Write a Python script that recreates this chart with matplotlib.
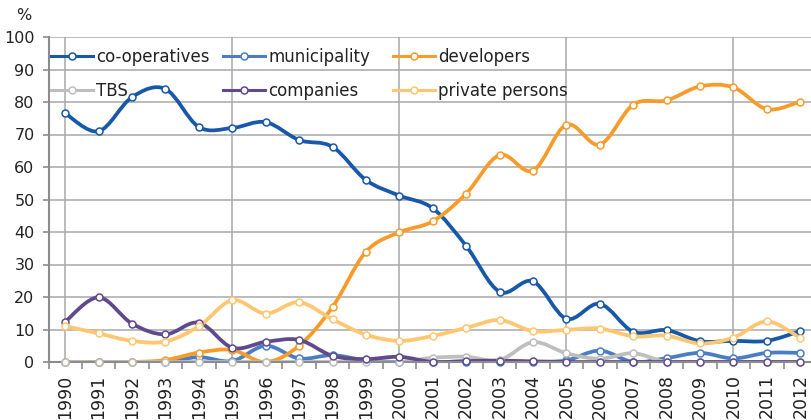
# housing production by developer type, 1990-2012 (share of dwellings, %)
# excel-style smoothed lines: cubic bezier through the data points

import matplotlib.pyplot as plt
from matplotlib.path import Path
from matplotlib.patches import PathPatch
from matplotlib.lines import Line2D

plt.rcParams['font.family'] = ['DejaVu Sans']

years = list(range(1990, 2013))

cooperatives = [76.5, 71.0, 81.5, 84.0, 72.3, 72.0, 73.8, 68.3, 66.2, 56.0, 51.2, 47.3,
                35.7, 21.6, 24.8, 13.3, 17.9, 9.3, 9.8, 6.4, 6.5, 6.5, 9.5]
municipality = [0.0, 0.0, 0.0, 0.0, 1.5, 0.3, 5.0, 1.1, 2.1, 0.5, 0.0, 0.0,
                0.0, 0.0, 0.0, 0.5, 3.5, 0.0, 1.2, 2.8, 1.1, 2.8, 2.8]
developers = [0.0, 0.0, 0.0, 0.6, 2.9, 3.7, 0.0, 5.0, 16.9, 33.9, 39.9, 43.3,
              51.8, 63.7, 58.9, 73.0, 66.9, 79.2, 80.5, 84.8, 84.5, 77.8, 80.1]
tbs = [0.0, 0.0, 0.0, 0.0, 0.0, 0.0, 0.0, 0.0, 0.0, 0.0, 0.0, 1.3,
       1.6, 0.6, 6.1, 2.7, 1.0, 2.7, 0.0, 0.0, 0.0, 0.0, 0.0]
companies = [12.4, 19.9, 11.8, 8.5, 12.1, 4.4, 6.2, 6.8, 1.9, 0.9, 1.6, 0.0,
             0.3, 0.4, 0.2, 0.0, 0.0, 0.0, 0.0, 0.0, 0.0, 0.0, 0.0]
private_persons = [11.0, 8.8, 6.5, 6.3, 11.0, 19.0, 14.9, 18.4, 13.1, 8.4, 6.5, 8.0,
                   10.5, 12.9, 9.5, 9.9, 10.3, 7.9, 8.1, 5.7, 7.5, 12.5, 7.4]

labels = ['co-operatives', 'municipality', 'developers', 'TBS', 'companies', 'private persons']
series = [cooperatives, municipality, developers, tbs, companies, private_persons]
colors = ['#1858A8', '#4A7EC2', '#F79C2A', '#BEBEBE', '#5E4A8C', '#FFC671']

W, H = 811, 420


def fx(x):
    return x / W


def fy(y):
    return 1 - y / H


def smooth_path(xs, ys):
    # catmull-rom -> bezier control points, same as excel "smoothed line"
    n = len(xs)
    pts = list(zip(xs, ys))
    verts = [pts[0]]
    codes = [Path.MOVETO]
    for i in range(n - 1):
        p0 = pts[max(i - 1, 0)]
        p1 = pts[i]
        p2 = pts[i + 1]
        p3 = pts[min(i + 2, n - 1)]
        c1 = (p1[0] + (p2[0] - p0[0]) / 6, p1[1] + (p2[1] - p0[1]) / 6)
        c2 = (p2[0] - (p3[0] - p1[0]) / 6, p2[1] - (p3[1] - p1[1]) / 6)
        verts += [c1, c2, p2]
        codes += [Path.CURVE4] * 3
    return Path(verts, codes)


fig = plt.figure(figsize=(W / 100, H / 100), dpi=100)
ax = fig.add_axes([fx(48.5), fy(362), (817 - 48.5) / W, (362 - 37) / H])
ax.set_xlim(1989.5, 2012.5)
ax.set_ylim(0, 100)

grid_c = '#A8A8A8'
for v in range(10, 101, 10):
    ax.axhline(v, color=grid_c, lw=1.1, zorder=0)
for yr in range(1990, 2012, 5):
    ax.axvline(yr, color=grid_c, lw=1.1, zorder=0)

for ys, c, lab in zip(series, colors, labels):
    ax.add_patch(PathPatch(smooth_path(years, ys), facecolor='none', edgecolor=c,
                           lw=2.7, capstyle='round', joinstyle='round', zorder=2))
    ax.plot(years, ys, ls='none', marker='o', ms=5, mfc='white', mec=c, mew=1.1,
            zorder=3, clip_on=False)

for s in ['top', 'right']:
    ax.spines[s].set_visible(False)
for s in ['left', 'bottom']:
    ax.spines[s].set_color('#8C8C8C')
    ax.spines[s].set_linewidth(1.5)

ax.set_yticks(range(0, 101, 10))
ax.tick_params(axis='y', length=4, width=1.2, color='#8C8C8C', labelsize=11.5,
               pad=6, labelcolor='#222222')
ax.set_xticks(years)
ax.set_xticklabels([str(y) for y in years], rotation=90, va='top')
ax.set_xticks([y + 0.5 for y in years[:-1]] + [1989.5], minor=True)
ax.tick_params(axis='x', which='major', length=0, labelsize=12.5, pad=9,
               labelcolor='#222222')
ax.tick_params(axis='x', which='minor', length=5, width=1.2, color='#8C8C8C')

fig.text(fx(24), fy(15), '%', fontsize=11.5, ha='center', va='center', color='#222222')

# legend: 3 columns x 2 rows, fixed excel column positions
col_x = [51, 223, 393]
row_y = [55.5, 89.5]
for k, (c, lab) in enumerate(zip(colors, labels)):
    x0 = col_x[k % 3]
    y0 = row_y[k // 3]
    fig.add_artist(Line2D([fx(x0), fx(x0 + 42)], [fy(y0), fy(y0)], color=c, lw=2.2,
                          transform=fig.transFigure))
    fig.add_artist(Line2D([fx(x0 + 21)], [fy(y0)], ls='none', marker='o', ms=5,
                          mfc='white', mec=c, mew=1.1, transform=fig.transFigure))
    fig.text(fx(x0 + 45), fy(y0), lab, fontsize=12, ha='left', va='center_baseline',
             color='#222222')

fig.savefig('out.png', dpi=100)
